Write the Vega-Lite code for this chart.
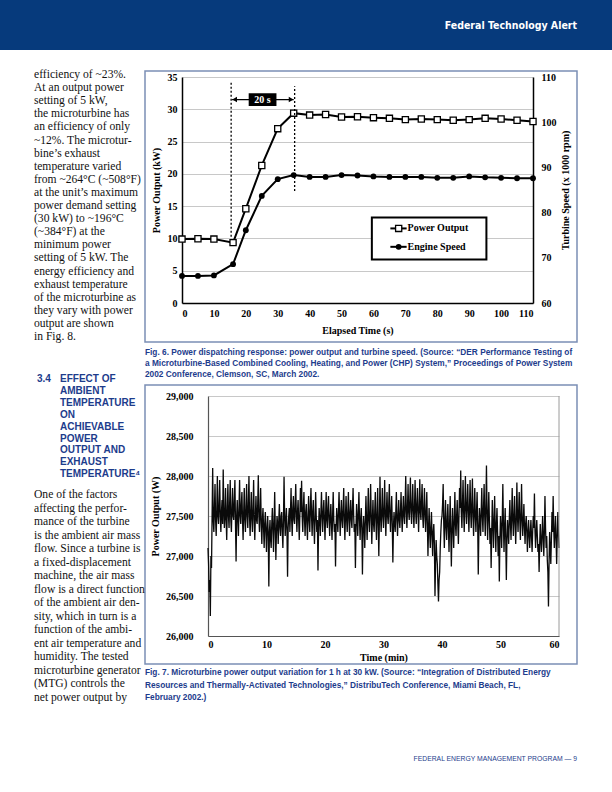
{
"$schema": "https://vega.github.io/schema/vega-lite/v6.json",
"padding": 0,
"autosize": {"type": "pad"},
"background": "white",
"spacing": 0,
"bounds": "flush",
"config": {
  "view": {"stroke": null},
  "axis": {"labelFont": "Liberation Serif", "titleFont": "Liberation Serif", "labelFontWeight": "bold", "titleFontWeight": "bold", "labelColor": "black", "titleColor": "black", "labelFontSize": 10, "titleFontSize": 10, "ticks": false, "gridColor": "#c8c8c8", "gridWidth": 1, "domainColor": "black", "domainWidth": 1.5, "labelOverlap": false}
},
"datasets": {
  "fig6": [
    {"t":0,"power":9.9,"speed":66.0},{"t":5,"power":9.95,"speed":66.0},{"t":10,"power":9.9,"speed":66.1},{"t":16,"power":9.35,"speed":68.6},
    {"t":20,"power":14.6,"speed":76.1},{"t":25,"power":21.3,"speed":83.7},{"t":30,"power":27.0,"speed":87.4},{"t":35,"power":29.4,"speed":88.3},
    {"t":40,"power":29.1,"speed":87.9},{"t":45,"power":29.2,"speed":87.9},{"t":50,"power":28.8,"speed":88.3},{"t":55,"power":28.85,"speed":88.2},
    {"t":60,"power":28.7,"speed":88.0},{"t":65,"power":28.6,"speed":87.9},{"t":70,"power":28.4,"speed":87.9},{"t":75,"power":28.5,"speed":87.9},
    {"t":80,"power":28.4,"speed":87.7},{"t":85,"power":28.3,"speed":87.7},{"t":90,"power":28.4,"speed":88.0},{"t":95,"power":28.6,"speed":87.8},
    {"t":100,"power":28.5,"speed":87.7},{"t":105,"power":28.3,"speed":87.6},{"t":110,"power":28.1,"speed":87.6}
  ],
  "vlines": [{"t": 15.4, "power": 10.25, "power2": 34.2}, {"t": 35.3, "power": 17.35, "power2": 33.56}],
  "span": [{"t": 15.7, "t2": 35.0, "power": 31.5}],
  "headL": [{"t": 16.5, "power": 31.5}],
  "headR": [{"t": 34.2, "power": 31.5}],
  "box": [{"t": 20.9, "t2": 29.6, "power": 30.5, "power2": 32.5}],
  "boxlabel": [{"t": 25.25, "power": 31.5, "label": "20 s"}],
  "legendbox": [{"t": 59.5, "t2": 95.4, "power": 13.26, "power2": 6.73}],
  "legendrows": [{"t": 65.3, "t2": 70.4, "tm": 67.9, "tx": 70.7, "power": 11.55, "k": "Power Output"}, {"t": 65.3, "t2": 70.4, "tm": 67.9, "tx": 70.7, "power": 8.7, "k": "Engine Speed"}],
  "border7": [{"m": 60, "w": 26000, "w2": 29000}],
  "fig7": [
{"m":0,"w":27100},{"m":0.1,"w":26900},{"m":0.2,"w":26550},{"m":0.3,"w":26700},{"m":0.4,"w":26250},{"m":0.5,"w":27000},{"m":0.6,"w":26850},{"m":0.7,"w":27500},{"m":0.8,"w":28100},{"m":0.9,"w":27450},
{"m":1,"w":27300},{"m":1.1,"w":27600},{"m":1.2,"w":27900},{"m":1.3,"w":27450},{"m":1.4,"w":27250},{"m":1.5,"w":27550},{"m":1.6,"w":28000},{"m":1.7,"w":27500},{"m":1.8,"w":27400},{"m":1.9,"w":27650},
{"m":2,"w":27950},{"m":2.1,"w":27500},{"m":2.2,"w":27300},{"m":2.3,"w":27550},{"m":2.4,"w":27700},{"m":2.5,"w":27400},{"m":2.6,"w":28080},{"m":2.7,"w":27600},{"m":2.8,"w":27350},{"m":2.9,"w":27500},
{"m":3,"w":27850},{"m":3.1,"w":27450},{"m":3.2,"w":27200},{"m":3.3,"w":27600},{"m":3.4,"w":27900},{"m":3.5,"w":27500},{"m":3.6,"w":27350},{"m":3.7,"w":27650},{"m":3.8,"w":27950},{"m":3.9,"w":27450},
{"m":4,"w":27300},{"m":4.1,"w":27600},{"m":4.2,"w":27850},{"m":4.3,"w":27500},{"m":4.4,"w":27450},{"m":4.5,"w":27700},{"m":4.6,"w":27950},{"m":4.7,"w":27400},{"m":4.8,"w":26930},{"m":4.9,"w":27500},
{"m":5,"w":27700},{"m":5.1,"w":27450},{"m":5.2,"w":27250},{"m":5.3,"w":27600},{"m":5.4,"w":27950},{"m":5.5,"w":27500},{"m":5.6,"w":27400},{"m":5.7,"w":27650},{"m":5.8,"w":27800},{"m":5.9,"w":27450},
{"m":6,"w":27200},{"m":6.1,"w":27550},{"m":6.2,"w":27850},{"m":6.3,"w":27450},{"m":6.4,"w":27300},{"m":6.5,"w":27600},{"m":6.6,"w":27900},{"m":6.7,"w":27500},{"m":6.8,"w":27350},{"m":6.9,"w":27650},
{"m":7,"w":28000},{"m":7.1,"w":27500},{"m":7.2,"w":27250},{"m":7.3,"w":27550},{"m":7.4,"w":27800},{"m":7.5,"w":27450},{"m":7.6,"w":27300},{"m":7.7,"w":27600},{"m":7.8,"w":27950},{"m":7.9,"w":27450},
{"m":8,"w":27200},{"m":8.1,"w":27500},{"m":8.2,"w":27750},{"m":8.3,"w":27450},{"m":8.4,"w":27400},{"m":8.5,"w":27650},{"m":8.6,"w":28010},{"m":8.7,"w":27500},{"m":8.8,"w":27300},{"m":8.9,"w":27550},
{"m":9,"w":27850},{"m":9.1,"w":27400},{"m":9.2,"w":27150},{"m":9.3,"w":27450},{"m":9.4,"w":27600},{"m":9.5,"w":27350},{"m":9.6,"w":27100},{"m":9.7,"w":27400},{"m":9.8,"w":27550},{"m":9.9,"w":27300},
{"m":10,"w":27050},{"m":10.1,"w":27350},{"m":10.2,"w":27500},{"m":10.3,"w":27250},{"m":10.4,"w":26620},{"m":10.5,"w":27300},{"m":10.6,"w":27450},{"m":10.7,"w":27200},{"m":10.8,"w":27100},{"m":10.9,"w":27400},
{"m":11,"w":27600},{"m":11.1,"w":27350},{"m":11.2,"w":27050},{"m":11.3,"w":27400},{"m":11.4,"w":27800},{"m":11.5,"w":27350},{"m":11.6,"w":26950},{"m":11.7,"w":27300},{"m":11.8,"w":27500},{"m":11.9,"w":27400},
{"m":12,"w":27150},{"m":12.1,"w":27450},{"m":12.2,"w":27650},{"m":12.3,"w":27350},{"m":12.4,"w":27250},{"m":12.5,"w":27500},{"m":12.6,"w":27550},{"m":12.7,"w":27300},{"m":12.8,"w":27100},{"m":12.9,"w":27450},
{"m":13,"w":27990},{"m":13.1,"w":27500},{"m":13.2,"w":27250},{"m":13.3,"w":27450},{"m":13.4,"w":27600},{"m":13.5,"w":27300},{"m":13.6,"w":26740},{"m":13.7,"w":27350},{"m":13.8,"w":27500},{"m":13.9,"w":27600},
{"m":14,"w":27300},{"m":14.1,"w":27550},{"m":14.2,"w":27850},{"m":14.3,"w":27450},{"m":14.4,"w":27250},{"m":14.5,"w":27600},{"m":14.6,"w":27750},{"m":14.7,"w":27450},{"m":14.8,"w":27400},{"m":14.9,"w":27650},
{"m":15,"w":27900},{"m":15.1,"w":27500},{"m":15.2,"w":27300},{"m":15.3,"w":27550},{"m":15.4,"w":27700},{"m":15.5,"w":27450},{"m":15.6,"w":27200},{"m":15.7,"w":27500},{"m":15.8,"w":27850},{"m":15.9,"w":27550},
{"m":16,"w":27940},{"m":16.1,"w":27500},{"m":16.2,"w":27300},{"m":16.3,"w":27600},{"m":16.4,"w":27800},{"m":16.5,"w":27450},{"m":16.6,"w":27250},{"m":16.7,"w":27550},{"m":16.8,"w":27650},{"m":16.9,"w":27400},
{"m":17,"w":27200},{"m":17.1,"w":27500},{"m":17.2,"w":27750},{"m":17.3,"w":27450},{"m":17.4,"w":27300},{"m":17.5,"w":27600},{"m":17.6,"w":27850},{"m":17.7,"w":27500},{"m":17.8,"w":27250},{"m":17.9,"w":27550},
{"m":18,"w":27700},{"m":18.1,"w":27400},{"m":18.2,"w":27150},{"m":18.3,"w":27450},{"m":18.4,"w":27800},{"m":18.5,"w":27500},{"m":18.6,"w":27300},{"m":18.7,"w":27450},{"m":18.8,"w":26820},{"m":18.9,"w":27350},
{"m":19,"w":27600},{"m":19.1,"w":27450},{"m":19.2,"w":27250},{"m":19.3,"w":27550},{"m":19.4,"w":27800},{"m":19.5,"w":27500},{"m":19.6,"w":27300},{"m":19.7,"w":27550},{"m":19.8,"w":27700},{"m":19.9,"w":27450},
{"m":20,"w":27200},{"m":20.1,"w":27500},{"m":20.2,"w":27800},{"m":20.3,"w":27450},{"m":20.4,"w":27350},{"m":20.5,"w":27600},{"m":20.6,"w":27750},{"m":20.7,"w":27450},{"m":20.8,"w":27250},{"m":20.9,"w":27500},
{"m":21,"w":27650},{"m":21.1,"w":27400},{"m":21.2,"w":27200},{"m":21.3,"w":27500},{"m":21.4,"w":27800},{"m":21.5,"w":27450},{"m":21.6,"w":27300},{"m":21.7,"w":27400},{"m":21.8,"w":26870},{"m":21.9,"w":27350},
{"m":22,"w":27600},{"m":22.1,"w":27450},{"m":22.2,"w":27300},{"m":22.3,"w":27550},{"m":22.4,"w":27800},{"m":22.5,"w":27500},{"m":22.6,"w":27250},{"m":22.7,"w":27500},{"m":22.8,"w":27700},{"m":22.9,"w":27450},
{"m":23,"w":27350},{"m":23.1,"w":27600},{"m":23.2,"w":27850},{"m":23.3,"w":27450},{"m":23.4,"w":27200},{"m":23.5,"w":27500},{"m":23.6,"w":27750},{"m":23.7,"w":27450},{"m":23.8,"w":27300},{"m":23.9,"w":27550},
{"m":24,"w":27800},{"m":24.1,"w":27450},{"m":24.2,"w":27250},{"m":24.3,"w":27550},{"m":24.4,"w":27700},{"m":24.5,"w":27450},{"m":24.6,"w":27350},{"m":24.7,"w":27600},{"m":24.8,"w":27850},{"m":24.9,"w":27500},
{"m":25,"w":27300},{"m":25.1,"w":27400},{"m":25.2,"w":26850},{"m":25.3,"w":27350},{"m":25.4,"w":27650},{"m":25.5,"w":27450},{"m":25.6,"w":27250},{"m":25.7,"w":27550},{"m":25.8,"w":27800},{"m":25.9,"w":27450},
{"m":26,"w":27200},{"m":26.1,"w":27450},{"m":26.2,"w":27600},{"m":26.3,"w":27350},{"m":26.4,"w":26770},{"m":26.5,"w":27300},{"m":26.6,"w":27500},{"m":26.7,"w":27350},{"m":26.8,"w":27100},{"m":26.9,"w":27450},
{"m":27,"w":27750},{"m":27.1,"w":27450},{"m":27.2,"w":27200},{"m":27.3,"w":27500},{"m":27.4,"w":27850},{"m":27.5,"w":27450},{"m":27.6,"w":27300},{"m":27.7,"w":27550},{"m":27.8,"w":27900},{"m":27.9,"w":27500},
{"m":28,"w":27150},{"m":28.1,"w":27450},{"m":28.2,"w":27700},{"m":28.3,"w":27400},{"m":28.4,"w":27300},{"m":28.5,"w":27550},{"m":28.6,"w":27800},{"m":28.7,"w":27450},{"m":28.8,"w":27200},{"m":28.9,"w":27500},
{"m":29,"w":27850},{"m":29.1,"w":27400},{"m":29.2,"w":27000},{"m":29.3,"w":27450},{"m":29.4,"w":27990},{"m":29.5,"w":27500},{"m":29.6,"w":27300},{"m":29.7,"w":27550},{"m":29.8,"w":27850},{"m":29.9,"w":27500},
{"m":30,"w":27350},{"m":30.1,"w":27600},{"m":30.2,"w":27950},{"m":30.3,"w":27500},{"m":30.4,"w":27250},{"m":30.5,"w":27550},{"m":30.6,"w":27800},{"m":30.7,"w":27500},{"m":30.8,"w":27400},{"m":30.9,"w":27650},
{"m":31,"w":27900},{"m":31.1,"w":27500},{"m":31.2,"w":27300},{"m":31.3,"w":27550},{"m":31.4,"w":27750},{"m":31.5,"w":27400},{"m":31.6,"w":26920},{"m":31.7,"w":27350},{"m":31.8,"w":27550},{"m":31.9,"w":27400},
{"m":32,"w":27300},{"m":32.1,"w":27550},{"m":32.2,"w":27800},{"m":32.3,"w":27450},{"m":32.4,"w":27250},{"m":32.5,"w":27500},{"m":32.6,"w":27700},{"m":32.7,"w":27450},{"m":32.8,"w":27350},{"m":32.9,"w":27550},
{"m":33,"w":27800},{"m":33.1,"w":27500},{"m":33.2,"w":27300},{"m":33.3,"w":27550},{"m":33.4,"w":27750},{"m":33.5,"w":27500},{"m":33.6,"w":27400},{"m":33.7,"w":27650},{"m":33.8,"w":28000},{"m":33.9,"w":27550},
{"m":34,"w":27350},{"m":34.1,"w":27600},{"m":34.2,"w":27900},{"m":34.3,"w":27550},{"m":34.4,"w":27450},{"m":34.5,"w":27700},{"m":34.6,"w":27980},{"m":34.7,"w":27550},{"m":34.8,"w":27400},{"m":34.9,"w":27650},
{"m":35,"w":27900},{"m":35.1,"w":27550},{"m":35.2,"w":27350},{"m":35.3,"w":27600},{"m":35.4,"w":27950},{"m":35.5,"w":27550},{"m":35.6,"w":27400},{"m":35.7,"w":27650},{"m":35.8,"w":27850},{"m":35.9,"w":27550},
{"m":36,"w":27300},{"m":36.1,"w":27600},{"m":36.2,"w":27960},{"m":36.3,"w":27550},{"m":36.4,"w":27450},{"m":36.5,"w":27700},{"m":36.6,"w":27900},{"m":36.7,"w":27500},{"m":36.8,"w":27350},{"m":36.9,"w":27600},
{"m":37,"w":27850},{"m":37.1,"w":27500},{"m":37.2,"w":27300},{"m":37.3,"w":27550},{"m":37.4,"w":27800},{"m":37.5,"w":27400},{"m":37.6,"w":27000},{"m":37.7,"w":27350},{"m":37.8,"w":27600},{"m":37.9,"w":27300},
{"m":38,"w":27100},{"m":38.1,"w":27350},{"m":38.2,"w":27550},{"m":38.3,"w":27250},{"m":38.4,"w":27000},{"m":38.5,"w":27300},{"m":38.6,"w":27400},{"m":38.7,"w":27150},{"m":38.8,"w":26500},{"m":38.9,"w":26900},
{"m":39,"w":27200},{"m":39.1,"w":27000},{"m":39.2,"w":26900},{"m":39.3,"w":26650},{"m":39.4,"w":26430},{"m":39.5,"w":26700},{"m":39.6,"w":26800},{"m":39.7,"w":27100},{"m":39.8,"w":27300},{"m":39.9,"w":27450},
{"m":40,"w":27500},{"m":40.1,"w":27650},{"m":40.2,"w":27900},{"m":40.3,"w":27400},{"m":40.4,"w":27100},{"m":40.5,"w":27450},{"m":40.6,"w":27700},{"m":40.7,"w":27350},{"m":40.8,"w":27200},{"m":40.9,"w":27450},
{"m":41,"w":27650},{"m":41.1,"w":27350},{"m":41.2,"w":27050},{"m":41.3,"w":27400},{"m":41.4,"w":27750},{"m":41.5,"w":27300},{"m":41.6,"w":26870},{"m":41.7,"w":27300},{"m":41.8,"w":27600},{"m":41.9,"w":27350},
{"m":42,"w":27100},{"m":42.1,"w":27450},{"m":42.2,"w":27800},{"m":42.3,"w":27400},{"m":42.4,"w":27250},{"m":42.5,"w":27500},{"m":42.6,"w":27700},{"m":42.7,"w":27400},{"m":42.8,"w":27150},{"m":42.9,"w":27500},
{"m":43,"w":27850},{"m":43.1,"w":27600},{"m":43.2,"w":28070},{"m":43.3,"w":27550},{"m":43.4,"w":27350},{"m":43.5,"w":27650},{"m":43.6,"w":27950},{"m":43.7,"w":27550},{"m":43.8,"w":27300},{"m":43.9,"w":27600},
{"m":44,"w":28000},{"m":44.1,"w":27600},{"m":44.2,"w":27400},{"m":44.3,"w":27650},{"m":44.4,"w":27900},{"m":44.5,"w":27550},{"m":44.6,"w":27300},{"m":44.7,"w":27600},{"m":44.8,"w":27950},{"m":44.9,"w":27550},
{"m":45,"w":27350},{"m":45.1,"w":27650},{"m":45.2,"w":27970},{"m":45.3,"w":27500},{"m":45.4,"w":27250},{"m":45.5,"w":27550},{"m":45.6,"w":27850},{"m":45.7,"w":27500},{"m":45.8,"w":27300},{"m":45.9,"w":27550},
{"m":46,"w":27800},{"m":46.1,"w":27400},{"m":46.2,"w":26770},{"m":46.3,"w":27300},{"m":46.4,"w":27600},{"m":46.5,"w":27450},{"m":46.6,"w":27250},{"m":46.7,"w":27550},{"m":46.8,"w":27850},{"m":46.9,"w":27500},
{"m":47,"w":27300},{"m":47.1,"w":27600},{"m":47.2,"w":27900},{"m":47.3,"w":27500},{"m":47.4,"w":27250},{"m":47.5,"w":27600},{"m":47.6,"w":28130},{"m":47.7,"w":27550},{"m":47.8,"w":27200},{"m":47.9,"w":27500},
{"m":48,"w":27800},{"m":48.1,"w":27450},{"m":48.2,"w":27150},{"m":48.3,"w":27350},{"m":48.4,"w":26850},{"m":48.5,"w":27300},{"m":48.6,"w":27700},{"m":48.7,"w":27400},{"m":48.8,"w":27100},{"m":48.9,"w":27450},
{"m":49,"w":27750},{"m":49.1,"w":27350},{"m":49.2,"w":27050},{"m":49.3,"w":27400},{"m":49.4,"w":27600},{"m":49.5,"w":27300},{"m":49.6,"w":27000},{"m":49.7,"w":27250},{"m":49.8,"w":26680},{"m":49.9,"w":27200},
{"m":50,"w":27500},{"m":50.1,"w":27350},{"m":50.2,"w":27100},{"m":50.3,"w":27450},{"m":50.4,"w":27900},{"m":50.5,"w":27400},{"m":50.6,"w":27050},{"m":50.7,"w":27350},{"m":50.8,"w":27600},{"m":50.9,"w":27200},
{"m":51,"w":26700},{"m":51.1,"w":27200},{"m":51.2,"w":27450},{"m":51.3,"w":27300},{"m":51.4,"w":27150},{"m":51.5,"w":27450},{"m":51.6,"w":27700},{"m":51.7,"w":27400},{"m":51.8,"w":27200},{"m":51.9,"w":27500},
{"m":52,"w":27850},{"m":52.1,"w":27450},{"m":52.2,"w":27250},{"m":52.3,"w":27500},{"m":52.4,"w":27750},{"m":52.5,"w":27400},{"m":52.6,"w":27150},{"m":52.7,"w":27450},{"m":52.8,"w":27920},{"m":52.9,"w":27500},
{"m":53,"w":27300},{"m":53.1,"w":27550},{"m":53.2,"w":27800},{"m":53.3,"w":27450},{"m":53.4,"w":27200},{"m":53.5,"w":27500},{"m":53.6,"w":27900},{"m":53.7,"w":27450},{"m":53.8,"w":27250},{"m":53.9,"w":27450},
{"m":54,"w":27650},{"m":54.1,"w":27350},{"m":54.2,"w":27150},{"m":54.3,"w":27400},{"m":54.4,"w":27500},{"m":54.5,"w":27300},{"m":54.6,"w":27050},{"m":54.7,"w":27300},{"m":54.8,"w":27450},{"m":54.9,"w":27250},
{"m":55,"w":27100},{"m":55.1,"w":27300},{"m":55.2,"w":27450},{"m":55.3,"w":27250},{"m":55.4,"w":27050},{"m":55.5,"w":27300},{"m":55.6,"w":27500},{"m":55.7,"w":27350},{"m":55.8,"w":27780},{"m":55.9,"w":27300},
{"m":56,"w":27100},{"m":56.1,"w":27300},{"m":56.2,"w":27450},{"m":56.3,"w":27250},{"m":56.4,"w":27050},{"m":56.5,"w":27150},{"m":56.6,"w":26800},{"m":56.7,"w":27150},{"m":56.8,"w":27400},{"m":56.9,"w":27200},
{"m":57,"w":27050},{"m":57.1,"w":27250},{"m":57.2,"w":27500},{"m":57.3,"w":27250},{"m":57.4,"w":27000},{"m":57.5,"w":27300},{"m":57.6,"w":27750},{"m":57.7,"w":27350},{"m":57.8,"w":27100},{"m":57.9,"w":27250},
{"m":58,"w":26950},{"m":58.1,"w":26800},{"m":58.2,"w":26370},{"m":58.3,"w":26900},{"m":58.4,"w":27300},{"m":58.5,"w":27100},{"m":58.6,"w":26900},{"m":58.7,"w":27200},{"m":58.8,"w":27550},{"m":58.9,"w":27300},
{"m":59,"w":27750},{"m":59.1,"w":27350},{"m":59.2,"w":27100},{"m":59.3,"w":27300},{"m":59.4,"w":27500},{"m":59.5,"w":27200},{"m":59.6,"w":26900},{"m":59.7,"w":27250},{"m":59.8,"w":27550},{"m":59.9,"w":27300},
{"m":60,"w":27100}
  ]
},
"vconcat": [
  {
    "width": 612, "height": 50,
    "view": {"fill": "#063a7c", "stroke": null},
    "data": {"values": [{}]},
    "mark": {"type": "text", "text": "Federal Technology Alert", "align": "right", "baseline": "middle", "font": "DejaVu Sans Condensed, Liberation Sans, sans-serif", "fontWeight": "bold", "fontSize": 10.5, "color": "white"},
    "encoding": {"x": {"value": 577}, "y": {"value": 26}}
  },
  {
    "width": 533, "height": 253,
    "layer": [
      {"layer": [
        {"data": {"name": "fig6"}, "mark": {"type": "line", "color": "black", "strokeWidth": 2},
          "encoding": {
            "x": {"field": "t", "type": "quantitative", "scale": {"domain": [0, 110], "range": [182, 533], "nice": false, "zero": false},
                  "axis": {"title": "Elapsed Time (s)", "values": [0,10,20,30,40,50,60,70,80,90,100,110], "tickCount": 12, "grid": false, "labelPadding": 5, "titlePadding": 7}},
            "y": {"field": "power", "type": "quantitative", "scale": {"domain": [0, 35], "range": [253, 27], "nice": false, "zero": false},
                  "axis": {"title": "Power Output (kW)", "values": [0,5,10,15,20,25,30,35], "tickCount": 8, "grid": true, "offset": -182, "labelPadding": 5, "titlePadding": 6}}
          }},
        {"data": {"name": "fig6"}, "mark": {"type": "point", "shape": "square", "size": 38, "filled": true, "fill": "white", "stroke": "black", "strokeWidth": 1.3, "opacity": 1},
          "encoding": {"x": {"field": "t", "type": "quantitative"}, "y": {"field": "power", "type": "quantitative"}}},
        {"data": {"name": "vlines"}, "mark": {"type": "rule", "color": "black", "strokeWidth": 1.3, "strokeDash": [2, 2]},
          "encoding": {"x": {"field": "t", "type": "quantitative"}, "y": {"field": "power", "type": "quantitative"}, "y2": {"field": "power2"}}},
        {"data": {"name": "span"}, "mark": {"type": "rule", "color": "black", "strokeWidth": 1.3},
          "encoding": {"x": {"field": "t", "type": "quantitative"}, "x2": {"field": "t2"}, "y": {"field": "power", "type": "quantitative"}}},
        {"data": {"name": "headL"}, "mark": {"type": "point", "shape": "triangle-left", "size": 30, "filled": true, "color": "black", "opacity": 1},
          "encoding": {"x": {"field": "t", "type": "quantitative"}, "y": {"field": "power", "type": "quantitative"}}},
        {"data": {"name": "headR"}, "mark": {"type": "point", "shape": "triangle-right", "size": 30, "filled": true, "color": "black", "opacity": 1},
          "encoding": {"x": {"field": "t", "type": "quantitative"}, "y": {"field": "power", "type": "quantitative"}}},
        {"data": {"name": "box"}, "mark": {"type": "rect", "color": "black"},
          "encoding": {"x": {"field": "t", "type": "quantitative"}, "x2": {"field": "t2"}, "y": {"field": "power", "type": "quantitative"}, "y2": {"field": "power2"}}},
        {"data": {"name": "boxlabel"}, "mark": {"type": "text", "color": "white", "font": "Liberation Serif", "fontWeight": "bold", "fontSize": 10, "align": "center", "baseline": "middle"},
          "encoding": {"x": {"field": "t", "type": "quantitative"}, "y": {"field": "power", "type": "quantitative"}, "text": {"field": "label"}}},
        {"data": {"name": "legendbox"}, "mark": {"type": "rect", "fill": "white", "stroke": "black", "strokeWidth": 2},
          "encoding": {"x": {"field": "t", "type": "quantitative"}, "x2": {"field": "t2"}, "y": {"field": "power", "type": "quantitative"}, "y2": {"field": "power2"}}},
        {"data": {"name": "legendrows"}, "mark": {"type": "rule", "color": "black", "strokeWidth": 2},
          "encoding": {"x": {"field": "t", "type": "quantitative"}, "x2": {"field": "t2"}, "y": {"field": "power", "type": "quantitative"}}},
        {"data": {"name": "legendrows"}, "transform": [{"filter": "datum.k === 'Power Output'"}], "mark": {"type": "point", "shape": "square", "size": 38, "filled": true, "fill": "white", "stroke": "black", "strokeWidth": 1.3, "opacity": 1},
          "encoding": {"x": {"field": "tm", "type": "quantitative"}, "y": {"field": "power", "type": "quantitative"}}},
        {"data": {"name": "legendrows"}, "transform": [{"filter": "datum.k === 'Engine Speed'"}], "mark": {"type": "point", "shape": "circle", "size": 34, "filled": true, "color": "black", "opacity": 1},
          "encoding": {"x": {"field": "tm", "type": "quantitative"}, "y": {"field": "power", "type": "quantitative"}}},
        {"data": {"name": "legendrows"}, "mark": {"type": "text", "align": "left", "baseline": "middle", "font": "Liberation Serif", "fontWeight": "bold", "fontSize": 10, "color": "black"},
          "encoding": {"x": {"field": "tx", "type": "quantitative"}, "y": {"field": "power", "type": "quantitative"}, "text": {"field": "k"}}},
        {"data": {"values": [{}]}, "mark": {"type": "rect", "filled": false, "stroke": "#7b8fb5", "strokeWidth": 1.5}, "encoding": {"x": {"value": 145}, "x2": {"value": 577}, "y": {"value": 21}, "y2": {"value": 292}}},
        {"data": {"values": [{}]}, "mark": {"type": "text", "align": "left", "baseline": "alphabetic", "font": "Liberation Serif", "fontSize": 11.6, "lineHeight": 13.1, "color": "#111111",
          "text": ["efficiency of ~23%.", "At an output power", "setting of 5 kW,", "the microturbine has", "an efficiency of only", "~12%. The microtur-", "bine’s exhaust", "temperature varied", "from ~264°C (~508°F)", "at the unit’s maximum", "power demand setting", "(30 kW) to ~196°C", "(~384°F) at the", "minimum power", "setting of 5 kW. The", "energy efficiency and", "exhaust temperature", "of the microturbine as", "they vary with power", "output are shown", "in Fig. 8."]},
          "encoding": {"x": {"value": 34}, "y": {"value": 28}}}
      ]},
      {"layer": [
        {"data": {"name": "fig6"}, "mark": {"type": "line", "color": "black", "strokeWidth": 2},
          "encoding": {
            "x": {"field": "t", "type": "quantitative"},
            "y": {"field": "speed", "type": "quantitative", "scale": {"domain": [60, 110], "range": [253, 27], "nice": false, "zero": false},
                  "axis": {"orient": "right", "title": "Turbine Speed (x 1000 rpm)", "values": [60,70,80,90,100,110], "tickCount": 6, "grid": false, "labelPadding": 8, "titlePadding": 4, "titleAngle": 270, "titleBaseline": "top"}}
          }},
        {"data": {"name": "fig6"}, "mark": {"type": "point", "shape": "circle", "size": 34, "filled": true, "color": "black", "opacity": 1},
          "encoding": {"x": {"field": "t", "type": "quantitative"}, "y": {"field": "speed", "type": "quantitative"}}}
      ]}
    ],
    "resolve": {"scale": {"y": "independent"}, "axis": {"y": "independent"}}
  },
  {
    "width": 559, "height": 333,
    "layer": [
      {"data": {"name": "fig7"}, "mark": {"type": "line", "color": "#0a0a0a", "strokeWidth": 1.3},
        "encoding": {
          "x": {"field": "m", "type": "quantitative", "scale": {"domain": [0, 60], "range": [208, 559], "nice": false, "zero": false},
                "axis": {"title": "Time (min)", "values": [0,10,20,30,40,50,60], "tickCount": 7, "grid": false, "labelPadding": 3, "titlePadding": 3, "domainColor": "#555555", "domainWidth": 1.2}},
          "y": {"field": "w", "type": "quantitative", "scale": {"domain": [26000, 29000], "range": [333, 93], "nice": false, "zero": false},
                "axis": {"title": "Power Output (W)", "values": [26000,26500,27000,27500,28000,28500,29000], "tickCount": 7, "format": ",d", "grid": true, "offset": -208, "labelPadding": 15, "titlePadding": 5, "domainColor": "#555555", "domainWidth": 1.2}}
        }},
      {"data": {"name": "border7"}, "mark": {"type": "rule", "color": "#9a9a9a", "strokeWidth": 1},
        "encoding": {"x": {"field": "m", "type": "quantitative"}, "y": {"field": "w", "type": "quantitative"}, "y2": {"field": "w2"}}},
      {"data": {"values": [{}]}, "mark": {"type": "rect", "filled": false, "stroke": "#7b8fb5", "strokeWidth": 1.5}, "encoding": {"x": {"value": 145}, "x2": {"value": 577}, "y": {"value": 82}, "y2": {"value": 361}}},
      {"data": {"values": [{}]}, "mark": {"type": "text", "align": "left", "baseline": "alphabetic", "font": "Liberation Sans", "fontWeight": "bold", "fontSize": 8.3, "lineHeight": 11, "color": "#1d3c8c",
        "text": ["Fig. 6. Power dispatching response: power output and turbine speed. (Source: “DER Performance Testing of", "a Microturbine-Based Combined Cooling, Heating, and Power (CHP) System,” Proceedings of Power System", "2002 Conference, Clemson, SC, March 2002."]},
        "encoding": {"x": {"value": 145}, "y": {"value": 52}}},
      {"data": {"values": [{}]}, "mark": {"type": "text", "align": "left", "baseline": "alphabetic", "font": "Liberation Sans", "fontWeight": "bold", "fontSize": 10, "color": "#1d3c8c", "text": "3.4"},
        "encoding": {"x": {"value": 37}, "y": {"value": 79}}},
      {"data": {"values": [{}]}, "mark": {"type": "text", "align": "left", "baseline": "alphabetic", "font": "Liberation Sans", "fontWeight": "bold", "fontSize": 10, "lineHeight": 11.9, "color": "#1d3c8c",
        "text": ["EFFECT OF", "AMBIENT", "TEMPERATURE", "ON", "ACHIEVABLE", "POWER", "OUTPUT AND", "EXHAUST", "TEMPERATURE⁴"]},
        "encoding": {"x": {"value": 60}, "y": {"value": 79}}},
      {"data": {"values": [{}]}, "mark": {"type": "text", "align": "left", "baseline": "alphabetic", "font": "Liberation Serif", "fontSize": 11.6, "lineHeight": 13.5, "color": "#111111",
        "text": ["One of the factors", "affecting the perfor-", "mance of the turbine", "is the ambient air mass", "flow. Since a turbine is", "a fixed-displacement", "machine, the air mass", "flow is a direct function", "of the ambient air den-", "sity, which in turn is a", "function of the ambi-", "ent air temperature and", "humidity. The tested", "microturbine generator", "(MTG) controls the", "net power output by"]},
        "encoding": {"x": {"value": 34}, "y": {"value": 195}}},
      {"data": {"values": [{}]}, "mark": {"type": "text", "align": "left", "baseline": "alphabetic", "font": "Liberation Sans", "fontWeight": "bold", "fontSize": 8.3, "lineHeight": 12.5, "color": "#1d3c8c",
        "text": ["Fig. 7. Microturbine power output variation for 1 h at 30 kW. (Source: “Integration of Distributed Energy", "Resources and Thermally-Activated Technologies,” DistribuTech Conference, Miami Beach, FL,", "February 2002.)"]},
        "encoding": {"x": {"value": 145}, "y": {"value": 372}}}
    ]
  },
  {
    "width": 612, "height": 156,
    "data": {"values": [{}]},
    "mark": {"type": "text", "text": "FEDERAL ENERGY MANAGEMENT PROGRAM — 9", "align": "right", "baseline": "middle", "font": "Liberation Sans", "fontSize": 6.8, "color": "#1d3c8c"},
    "encoding": {"x": {"value": 577}, "y": {"value": 123}}
  }
]
}
